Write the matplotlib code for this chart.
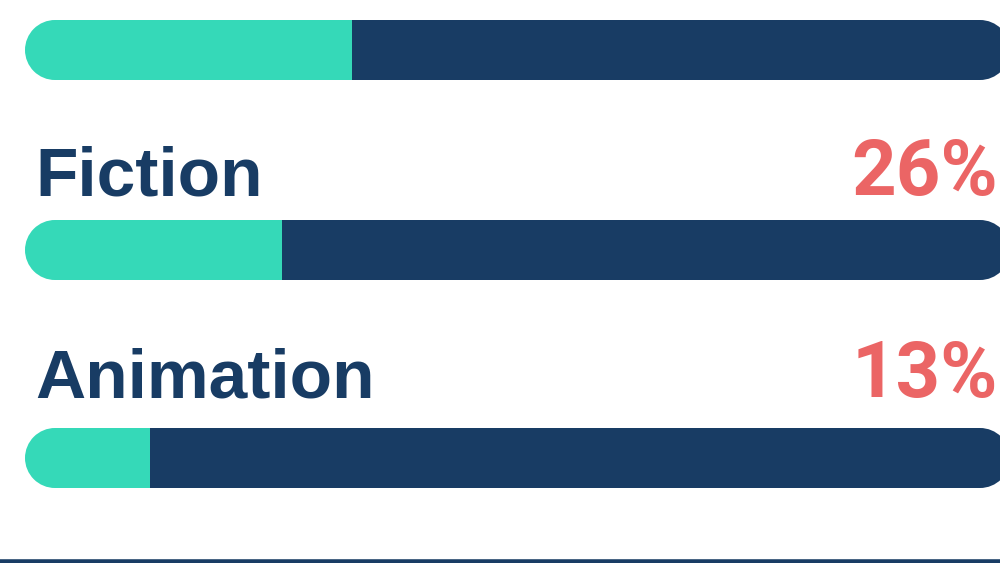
import matplotlib
matplotlib.use("Agg")
import matplotlib.pyplot as plt
from matplotlib.patches import Rectangle, Circle

# ---- data ----
categories = ["", "Fiction", "Animation"]
values = [33.2, 26.1, 12.7]
value_labels = ["", "26%", "13%"]

# ---- style ----
TEAL = "#35D9B8"
NAVY = "#183C64"
RED = "#EB6565"

W, H, DPI = 1000, 563, 100
S = 9.85            # pixels per percent unit
X0 = 25             # pixel of 0 %
fig = plt.figure(figsize=(W / DPI, H / DPI), dpi=DPI)
ax = fig.add_axes([0, 0, 1, 1])
ax.set_xlim(-X0 / S, (W - X0) / S)
ax.set_ylim(H / S, 0)
ax.axis("off")

bar_tops_px = [20, 220, 428]
baseline_px = [-5, 195, 397]
bar_h = 60 / S
r = bar_h / 2

for cat, val, lab, top, base in zip(categories, values, value_labels, bar_tops_px, baseline_px):
    y = top / S
    yc = y + r
    # remaining (navy) part with rounded right end
    ax.add_patch(Rectangle((val, y), (100 - r) - val, bar_h,
                           facecolor=NAVY, edgecolor="none", zorder=2))
    ax.add_patch(Circle((100 - r, yc), r, facecolor=NAVY, edgecolor="none", zorder=2))
    # value (teal) part with rounded left end
    ax.add_patch(Circle((r, yc), r, facecolor=TEAL, edgecolor="none", zorder=3))
    ax.add_patch(Rectangle((r, y), val - r, bar_h,
                           facecolor=TEAL, edgecolor="none", zorder=3))
    if cat:
        ax.text((35 - X0) / S, base / S, cat,
                ha="left", va="baseline", fontsize=50, fontweight="bold",
                family="Liberation Sans", color=NAVY, zorder=4)
    if lab:
        ax.text((998 - X0) / S, base / S, lab, ha="right", va="baseline",
                fontsize=56, fontweight="bold", family="Roboto", color=RED, zorder=4)

# bottom border line of card
ax.plot([-X0 / S, (W - X0) / S], [562 / S, 562 / S], color=NAVY, lw=4,
        solid_capstyle="butt", zorder=5)

fig.savefig("out.png", dpi=DPI)
